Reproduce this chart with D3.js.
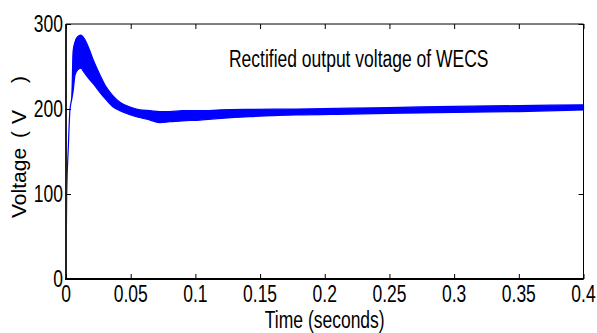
<!DOCTYPE html>
<html>
<head>
<meta charset="utf-8">
<script src="https://cdn.jsdelivr.net/npm/d3@7/dist/d3.min.js"></script>
<style>
  html, body { margin: 0; padding: 0; background: #fff; }
  svg { display: block; }
</style>
</head>
<body>
<svg id="chart" width="597" height="333"></svg>
<script>
// ---- data ----
const timeS   = [0, 0.0005, 0.0018, 0.003, 0.0045, 0.0055, 0.007, 0.009, 0.0114, 0.014, 0.0175, 0.021, 0.026, 0.031, 0.036, 0.0417, 0.05, 0.057, 0.065, 0.0726, 0.08, 0.09, 0.1035, 0.12, 0.142, 0.178, 0.22, 0.258, 0.3, 0.35, 0.4];
const upperV  = [0, 96, 155, 198, 215, 268, 279, 285, 287, 283, 272, 258, 241, 226, 216, 208, 202, 199, 198, 197, 197, 198, 198, 199, 199.6, 200, 201, 202, 203, 204, 205];
const lowerV  = [0, 96, 155, 198, 212, 221, 240, 246, 248, 243, 236, 230, 220, 211, 203, 198, 193, 190, 187, 184, 185, 186, 187, 189, 191, 193, 194, 195, 196, 197, 199];
const xTicks  = [0, 0.05, 0.1, 0.15, 0.2, 0.25, 0.3, 0.35, 0.4];
const xTickLabels = ["0", "0.05", "0.1", "0.15", "0.2", "0.25", "0.3", "0.35", "0.4"];
const yTicks  = [0, 100, 200, 300];
const yTickLabels = ["0", "100", "200", "300"];
const titleText = "Rectified output voltage of WECS";
const xLabelText = "Time (seconds)";

// ---- layout ----
const svg = d3.select("#chart");
const L = 66, R = 583.5, T = 24, B = 279;
const x = d3.scaleLinear().domain([0, 0.4]).range([L, R]);
const y = d3.scaleLinear().domain([0, 300]).range([B, T]);
const FONT = "'Liberation Sans', Arial, sans-serif";
const FS = 23;
const NARROW = 0.76;

function narrow(sel) {
  sel.each(function () {
    const w = this.getComputedTextLength();
    d3.select(this).attr("textLength", w * NARROW).attr("lengthAdjust", "spacingAndGlyphs");
  });
}

// data band
const pts = timeS.map((t, i) => ({ t, lo: lowerV[i], hi: upperV[i] }));
const area = d3.area().x(d => x(d.t)).y0(d => y(d.lo)).y1(d => y(d.hi)).curve(d3.curveMonotoneX);
svg.append("path").datum(pts).attr("d", area)
  .attr("fill", "#0000ff").attr("stroke", "#0000ff").attr("stroke-width", 1.2).attr("stroke-linejoin", "round");

// axes frame
const g = svg.append("g");
g.append("line").attr("x1", L).attr("x2", R).attr("y1", T).attr("y2", T).attr("stroke", "#000").attr("stroke-width", 1);
g.append("line").attr("x1", R).attr("x2", R).attr("y1", T).attr("y2", B).attr("stroke", "#000").attr("stroke-width", 1);
g.append("line").attr("x1", L).attr("x2", L).attr("y1", T).attr("y2", B + 1).attr("stroke", "#222").attr("stroke-width", 2);
g.append("line").attr("x1", L - 1).attr("x2", R).attr("y1", B).attr("y2", B).attr("stroke", "#000").attr("stroke-width", 2);

// inward ticks via d3 axes
const xb = d3.axisBottom(x).tickValues(xTicks).tickSize(-5).tickFormat("");
const xt = d3.axisTop(x).tickValues(xTicks).tickSize(-5).tickFormat("");
const yl = d3.axisLeft(y).tickValues(yTicks).tickSize(-5).tickFormat("");
const yr = d3.axisRight(y).tickValues(yTicks).tickSize(-5).tickFormat("");
[[xb, `translate(0,${B})`], [xt, `translate(0,${T})`], [yl, `translate(${L},0)`], [yr, `translate(${R},0)`]].forEach(([ax, tr]) => {
  const a = svg.append("g").attr("transform", tr).call(ax);
  a.select(".domain").remove();
  a.selectAll("line").attr("stroke", "#000").attr("stroke-width", 1);
});

// tick labels
svg.append("g").selectAll("text").data(xTicks).join("text")
  .attr("x", d => x(d)).attr("y", 302)
  .attr("text-anchor", "middle").attr("font-family", FONT).attr("font-size", FS).attr("fill", "#000")
  .text((d, i) => xTickLabels[i]).call(narrow);

svg.append("g").selectAll("text").data(yTicks).join("text")
  .attr("x", 63).attr("y", d => y(d) + 8)
  .attr("text-anchor", "end").attr("font-family", FONT).attr("font-size", FS).attr("fill", "#000")
  .text((d, i) => yTickLabels[i]).call(narrow);

// title
svg.append("text").attr("x", 229).attr("y", 67)
  .attr("font-family", FONT).attr("font-size", FS).attr("fill", "#000")
  .text(titleText).call(narrow);

// x label
svg.append("text").attr("x", (L + R) / 2).attr("y", 328)
  .attr("text-anchor", "middle").attr("font-family", FONT).attr("font-size", FS).attr("fill", "#000")
  .text(xLabelText).call(narrow);

// y label
const yl2 = svg.append("text").attr("transform", "translate(26,218) rotate(-90)")
  .attr("font-family", FONT).attr("font-size", 21).attr("fill", "#000");
yl2.append("tspan").text("Voltage");
yl2.append("tspan").attr("dx", 10).text("(");
yl2.append("tspan").attr("dx", 7).text("V");
yl2.append("tspan").attr("dx", 27).text(")");
</script>
</body>
</html>
